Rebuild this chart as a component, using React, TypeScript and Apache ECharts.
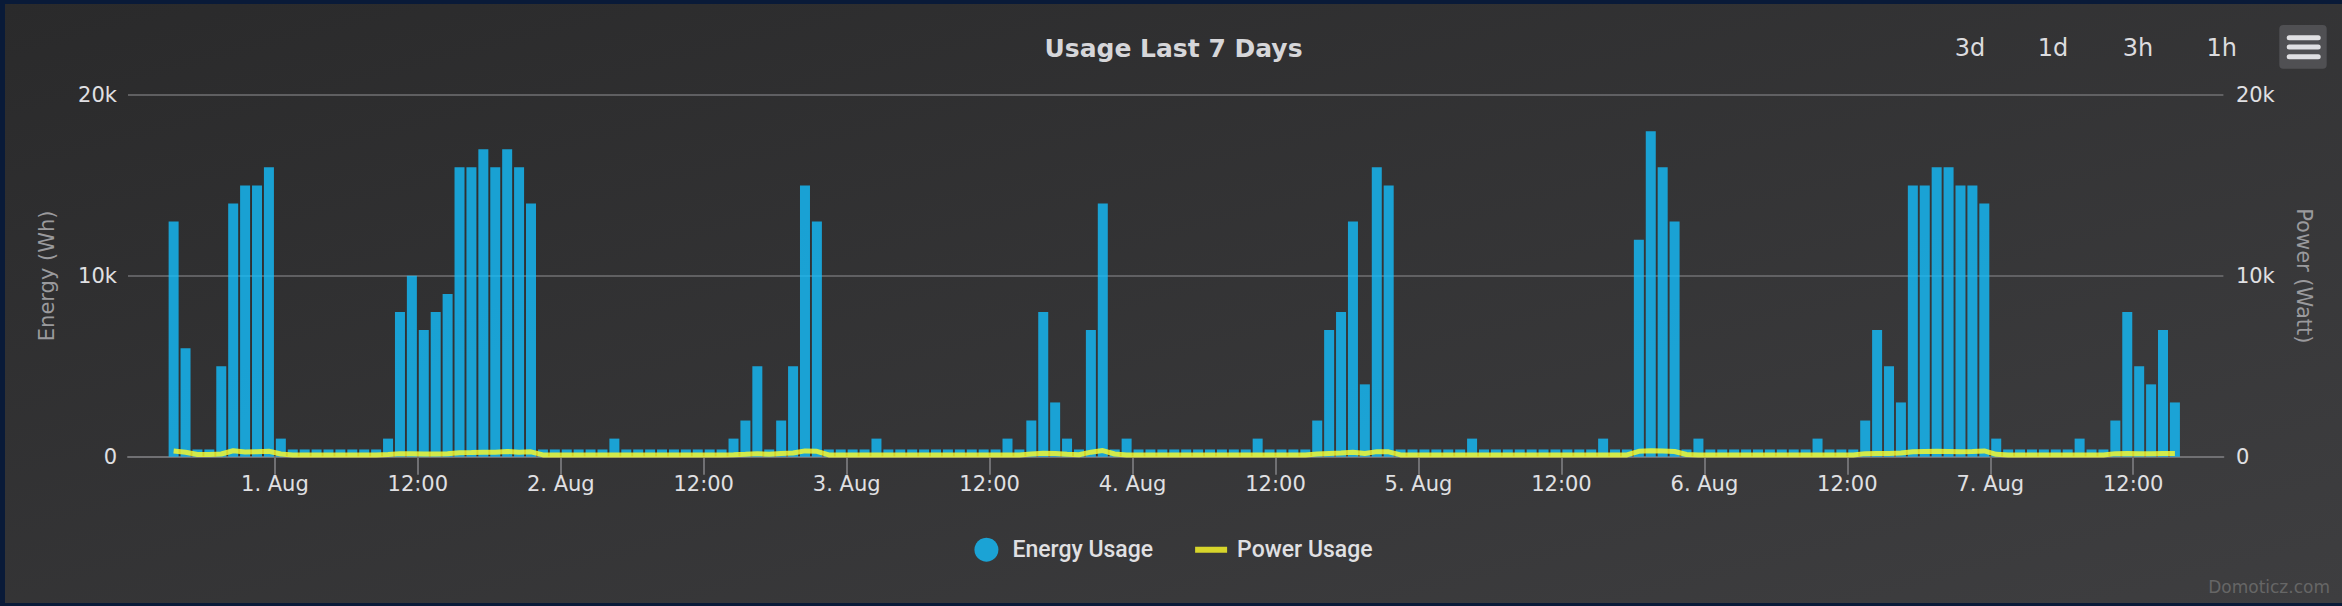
import React, { useEffect, useRef } from "react";
import * as echarts from "echarts";

// Hourly bars, first bar = 31 Jul 15:00 (hours counted from 31 Jul 00:00)
const startHour = 15;

const energyUsage = [
  // 15-23
  13000, 6000, 400, 400, 5000, 14000, 15000, 15000, 16000,
  // 24-35 (1 Aug)
  1000, 400, 400, 400, 400, 400, 400, 400, 400, 1000, 8000, 10000,
  // 36-47
  7000, 8000, 9000, 16000, 16000, 17000, 16000, 17000, 16000, 14000, 400, 400,
  // 48-59 (2 Aug)
  400, 400, 400, 400, 1000, 400, 400, 400, 400, 400, 400, 400,
  // 60-71
  400, 400, 1000, 2000, 5000, 400, 2000, 5000, 15000, 13000, 400, 400,
  // 72-83 (3 Aug)
  400, 400, 1000, 400, 400, 400, 400, 400, 400, 400, 400, 400,
  // 84-95
  400, 1000, 400, 2000, 8000, 3000, 1000, 400, 7000, 14000, 400, 1000,
  // 96-107 (4 Aug)
  400, 400, 400, 400, 400, 400, 400, 400, 400, 400, 1000, 400,
  // 108-119
  400, 400, 400, 2000, 7000, 8000, 13000, 4000, 16000, 15000, 400, 400,
  // 120-131 (5 Aug)
  400, 400, 400, 400, 1000, 400, 400, 400, 400, 400, 400, 400,
  // 132-143
  400, 400, 400, 1000, 400, 400, 12000, 18000, 16000, 13000, 400, 1000,
  // 144-155 (6 Aug)
  400, 400, 400, 400, 400, 400, 400, 400, 400, 1000, 400, 400,
  // 156-167
  400, 2000, 7000, 5000, 3000, 15000, 15000, 16000, 16000, 15000, 15000, 14000,
  // 168-179 (7 Aug)
  1000, 400, 400, 400, 400, 400, 400, 1000, 400, 400, 2000, 8000,
  // 180-183
  5000, 4000, 7000, 3000,
];

const powerUsage = [
  // 15-23
  320, 250, 120, 120, 150, 330, 260, 270, 300,
  // 24-35
  150, 100, 100, 100, 100, 100, 100, 100, 100, 120, 170, 160,
  // 36-47
  150, 150, 160, 220, 230, 250, 240, 290, 250, 270, 100, 100,
  // 48-59
  100, 100, 100, 100, 100, 100, 100, 100, 100, 100, 100, 100,
  // 60-71
  100, 100, 110, 130, 170, 130, 180, 200, 320, 300, 100, 100,
  // 72-83
  100, 100, 100, 100, 100, 100, 100, 100, 100, 100, 100, 100,
  // 84-95
  100, 100, 100, 150, 190, 180, 130, 110, 250, 340, 150, 100,
  // 96-107
  100, 100, 100, 100, 100, 100, 100, 100, 100, 100, 100, 100,
  // 108-119
  100, 100, 100, 150, 180, 200, 240, 180, 280, 270, 100, 100,
  // 120-131
  100, 100, 100, 100, 100, 100, 100, 100, 100, 100, 100, 100,
  // 132-143
  100, 100, 100, 100, 100, 100, 300, 330, 310, 290, 120, 100,
  // 144-155
  100, 100, 100, 100, 100, 100, 100, 100, 100, 100, 100, 100,
  // 156-167
  100, 170, 180, 180, 200, 270, 290, 300, 290, 280, 290, 320,
  // 168-179
  130, 100, 100, 100, 100, 100, 100, 100, 100, 100, 170, 180,
  // 180-183
  170, 170, 180, 180,
];

const tickHours = [24, 36, 48, 60, 72, 84, 96, 108, 120, 132, 144, 156, 168, 180];
const tickLabels = [
  "1. Aug", "12:00", "2. Aug", "12:00", "3. Aug", "12:00", "4. Aug",
  "12:00", "5. Aug", "12:00", "6. Aug", "12:00", "7. Aug", "12:00",
];
const yTicks = [0, 10000, 20000];
const yTickLabels = ["0", "10k", "20k"];
const rangeButtons = ["3d", "1d", "3h", "1h"];

const TEXT = "#E0E0E3";
const GRID = "#707073";
const BLUE = "rgba(20,190,252,0.8)";
const YELLOW = "rgba(255,252,40,0.8)";

export default function App() {
  const ref = useRef<HTMLDivElement>(null);

  useEffect(() => {
    document.body.style.margin = "0";
    document.body.style.overflow = "hidden";
    const chart = echarts.init(ref.current as HTMLDivElement, null, { renderer: "svg" });

    const energyData = energyUsage.map((v, i) => [startHour + i + 0.5, v]);
    const powerData = powerUsage.map((v, i) => [startHour + i + 0.5, v]);

    const yLabel = (v: number) => {
      const idx = yTicks.indexOf(v);
      return idx >= 0 ? yTickLabels[idx] : "";
    };
    const xLabel = (v: number) => {
      const idx = tickHours.indexOf(Math.round(v));
      return idx >= 0 ? tickLabels[idx] : "";
    };

    const buttonX = [1965, 2048, 2133, 2216.7];

    const graphics: any[] = rangeButtons.map((b, i) => ({
      type: "text",
      x: buttonX[i],
      y: 43.5,
      style: {
        text: b,
        font: "24px 'DejaVu Sans'",
        fill: "#DCDCDF",
        align: "center",
        verticalAlign: "middle",
        textAlign: "center",
        textVerticalAlign: "middle",
      },
      silent: true,
    }));

    graphics.push({
      type: "group",
      children: [
        {
          type: "rect",
          shape: { x: 2274.3, y: 21, width: 47.4, height: 43.7, r: 4 },
          style: { fill: "#505053" },
        },
        ...[33.7, 43, 52.7].map((yy) => ({
          type: "line",
          shape: { x1: 2284.2, y1: yy, x2: 2313.2, y2: yy },
          style: { stroke: "#E0E0E3", lineWidth: 5, lineCap: "round" },
        })),
      ],
    });

    graphics.push({
      type: "text",
      right: 12,
      top: 574,
      style: {
        text: "Domoticz.com",
        font: "17px 'DejaVu Sans'",
        fill: "#666666",
      },
    });

    const axisLabelStyle = {
      fontFamily: "DejaVu Sans",
      fontSize: 21,
      color: TEXT,
    };
    const axisNameStyle = {
      fontFamily: "DejaVu Sans",
      fontSize: 21,
      color: "#9A9A9D",
    };

    const option: any = {
      animation: false,
      backgroundColor: "transparent",
      title: {
        text: "Usage Last 7 Days",
        left: "center",
        top: 27,
        textStyle: {
          fontFamily: "DejaVu Sans",
          fontWeight: "bold",
          fontSize: 25,
          color: "#D6D6D9",
        },
      },
      legend: {
        left: "center",
        top: 528.7,
        itemWidth: 32,
        itemHeight: 24,
        itemGap: 42,
        textStyle: {
          fontFamily: "Roboto",
          fontWeight: 500,
          fontSize: 23,
          color: TEXT,
          padding: [0, 0, 0, 5],
        },
        data: [
          { name: "Energy Usage", icon: "circle" },
          { name: "Power Usage", icon: "path://M0,0 M32,24 M0,9 L32,9 L32,15 L0,15 Z" },
        ],
      },
      grid: {
        left: 123,
        right: 118.6,
        top: 91,
        bottom: 146.3,
        containLabel: false,
      },
      xAxis: {
        type: "value",
        min: 11.67,
        max: 187.57,
        axisLine: { show: true, lineStyle: { color: GRID, width: 2 } },
        axisTick: {
          show: true,
          customValues: tickHours,
          length: 18,
          lineStyle: { color: GRID, width: 2 },
        },
        axisLabel: {
          customValues: tickHours,
          formatter: xLabel,
          margin: 17,
          ...axisLabelStyle,
        },
        splitLine: { show: false },
      },
      yAxis: [
        {
          type: "value",
          position: "left",
          min: 0,
          max: 20000,
          interval: 10000,
          name: "Energy (Wh)",
          nameLocation: "middle",
          nameRotate: 90,
          nameGap: 71,
          nameTextStyle: axisNameStyle,
          axisLine: { show: false },
          axisTick: { show: false },
          axisLabel: { formatter: yLabel, margin: 11, ...axisLabelStyle },
          splitLine: { show: true, lineStyle: { color: GRID, width: 1.5 } },
        },
        {
          type: "value",
          position: "right",
          min: 0,
          max: 20000,
          interval: 10000,
          name: "Power (Watt)",
          nameLocation: "middle",
          nameRotate: -90,
          nameGap: 70,
          nameTextStyle: axisNameStyle,
          axisLine: { show: false },
          axisTick: { show: false },
          axisLabel: { formatter: yLabel, margin: 12.5, ...axisLabelStyle },
          splitLine: { show: false },
        },
      ],
      series: [
        {
          name: "Energy Usage",
          type: "bar",
          yAxisIndex: 0,
          barWidth: 10,
          data: energyData,
          itemStyle: { color: BLUE },
        },
        {
          name: "Power Usage",
          type: "line",
          yAxisIndex: 1,
          data: powerData,
          showSymbol: false,
          symbol: "none",
          lineStyle: { color: YELLOW, width: 5 },
          itemStyle: { color: YELLOW },
          z: 3,
        },
      ],
      graphic: graphics,
    };

    chart.setOption(option);
    return () => chart.dispose();
  }, []);

  return (
    <div
      style={{
        width: 2342,
        height: 606,
        background: "#091a38",
        position: "relative",
        overflow: "hidden",
      }}
    >
      <div
        ref={ref}
        style={{
          position: "absolute",
          left: 5,
          top: 4,
          width: 2337,
          height: 599,
          background: "linear-gradient(to bottom right, #2a2a2b, #3e3e40)",
        }}
      />
    </div>
  );
}
